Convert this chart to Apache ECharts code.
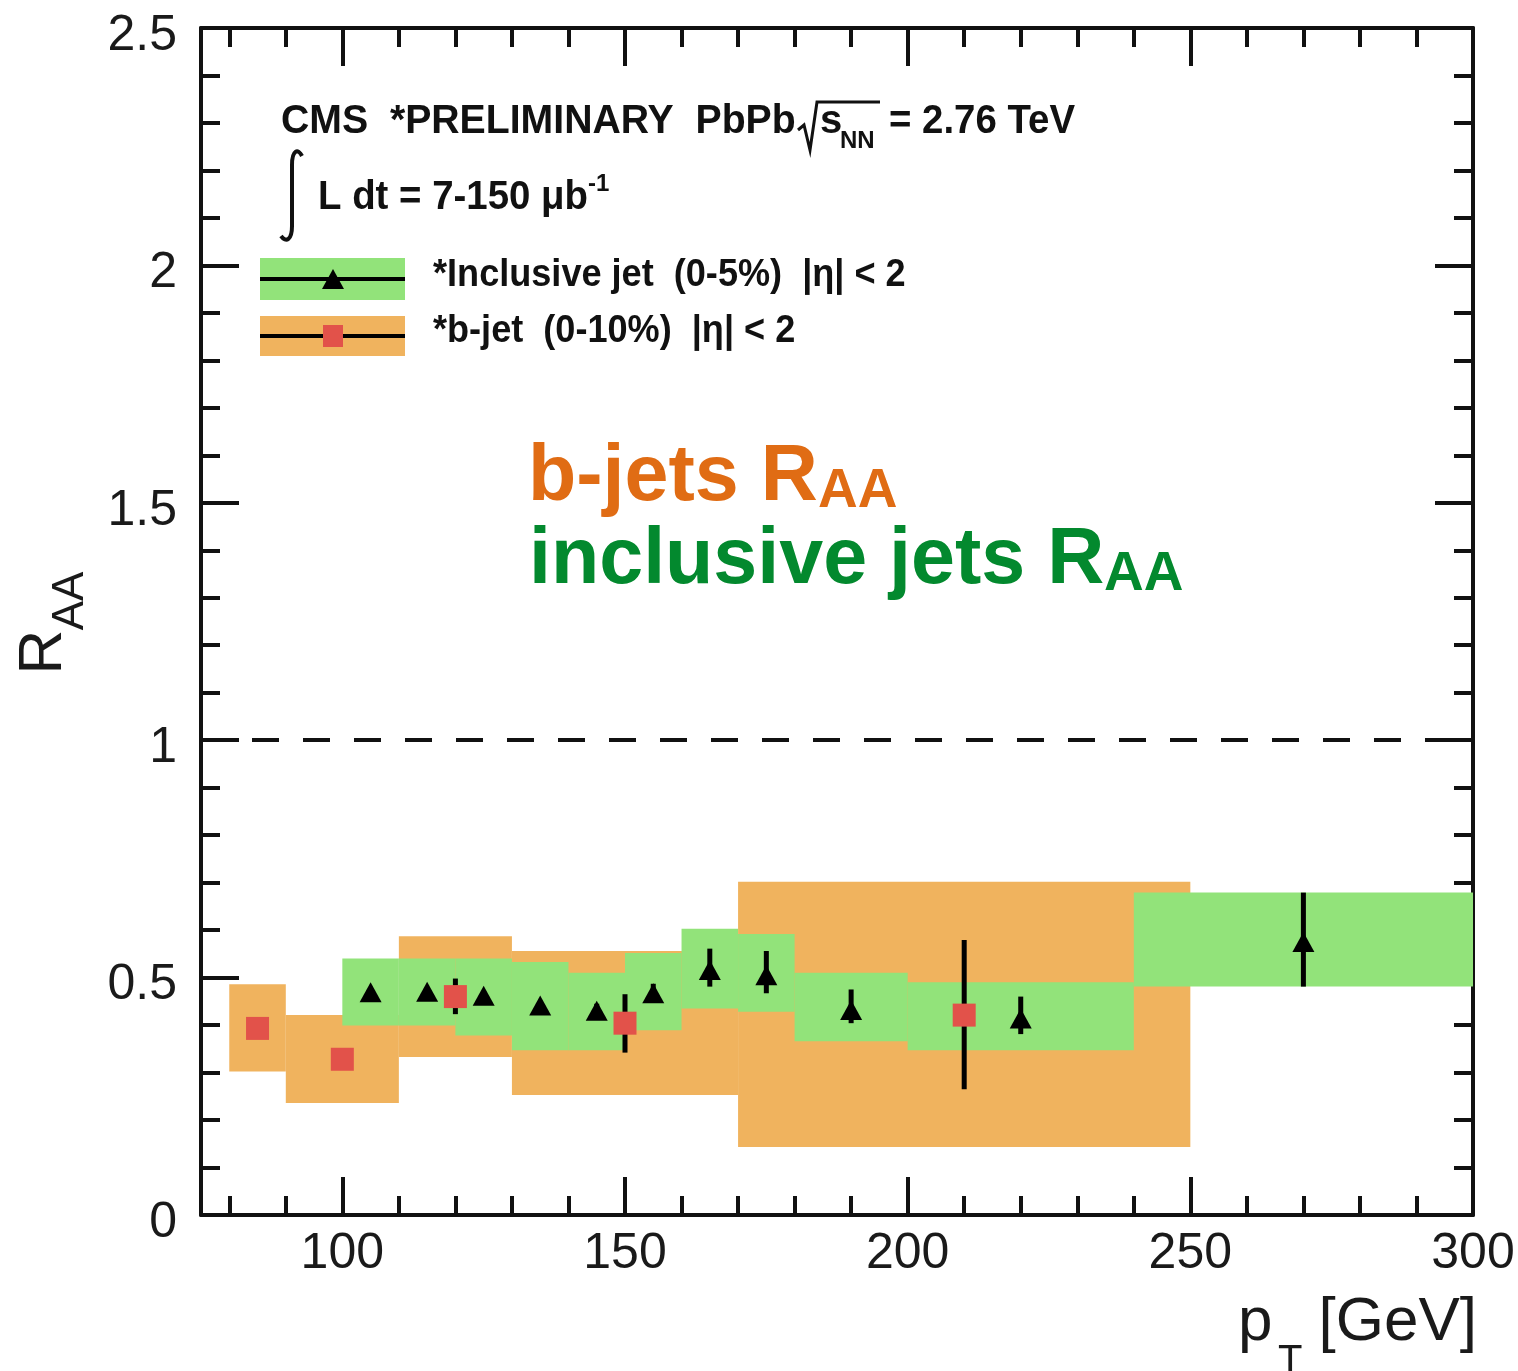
<!DOCTYPE html>
<html>
<head>
<meta charset="utf-8">
<script src="https://cdn.jsdelivr.net/npm/echarts@6/dist/echarts.min.js"></script>
<style>
  html, body { margin: 0; padding: 0; background: #ffffff; }
  #chart { width: 1518px; height: 1371px; }
</style>
</head>
<body>
<div id="chart"></div>
<script>
// ---- axis ticks ----
const xMajorTicks = [100, 150, 200, 250, 300];
const xMinorTicks = [80, 90, 110, 120, 130, 140, 160, 170, 180, 190, 210, 220, 230, 240, 260, 270, 280, 290];
const yMajorTicks = [0, 0.5, 1, 1.5, 2, 2.5];

// ---- b-jet R_AA (0-10%), |eta| < 2 ----
const bjetPt     = [85, 100, 120, 150, 210];
const bjetBinLo  = [80, 90, 110, 130, 170];
const bjetBinHi  = [90, 110, 130, 170, 250];
const bjetRaa    = [0.393, 0.328, 0.460, 0.404, 0.421];
const bjetStatLo = [0.380, 0.315, 0.423, 0.342, 0.265];
const bjetStatHi = [0.406, 0.341, 0.498, 0.465, 0.579];
const bjetSysLo  = [0.302, 0.236, 0.333, 0.253, 0.143];
const bjetSysHi  = [0.486, 0.421, 0.587, 0.556, 0.702];

// ---- inclusive jet R_AA (0-5%), |eta| < 2 ----
const incPt     = [105, 115, 125, 135, 145, 155, 165, 175, 190, 220, 270];
const incBinLo  = [100, 110, 120, 130, 140, 150, 160, 170, 180, 200, 240];
const incBinHi  = [110, 120, 130, 140, 150, 160, 170, 180, 200, 240, 300];
const incRaa    = [0.469, 0.470, 0.462, 0.441, 0.430, 0.467, 0.516, 0.505, 0.432, 0.414, 0.575];
const incStatLo = [0.460, 0.461, 0.453, 0.432, 0.415, 0.450, 0.481, 0.467, 0.404, 0.381, 0.481];
const incStatHi = [0.478, 0.479, 0.471, 0.450, 0.445, 0.487, 0.561, 0.556, 0.475, 0.460, 0.679];
const incSysLo  = [0.399, 0.399, 0.378, 0.347, 0.347, 0.389, 0.435, 0.428, 0.366, 0.347, 0.481];
const incSysHi  = [0.540, 0.540, 0.540, 0.533, 0.510, 0.552, 0.603, 0.592, 0.510, 0.490, 0.679];

const unityRaa = 1;

const COLOR_BJET_SYS = '#F0B35E';
const COLOR_INC_SYS  = '#92E37A';
const COLOR_BJET_PT  = '#E2524A';
const INK = '#111111';
const FONT = '"Liberation Sans", Arial, Helvetica, sans-serif';

const zip = (...cols) => cols[0].map((_, i) => cols.map(c => c[i]));

function bandRenderer(fill) {
  return function (params, api) {
    const p0 = api.coord([api.value(0), api.value(3)]);
    const p1 = api.coord([api.value(1), api.value(2)]);
    return {
      type: 'rect',
      shape: { x: p0[0], y: p0[1], width: p1[0] - p0[0], height: p1[1] - p0[1] },
      style: { fill: fill }
    };
  };
}

function errorBarRenderer(params, api) {
  const top = api.coord([api.value(0), api.value(2)]);
  const bot = api.coord([api.value(0), api.value(1)]);
  return {
    type: 'line',
    shape: { x1: top[0], y1: top[1], x2: bot[0], y2: bot[1] },
    style: { stroke: '#000', lineWidth: 5, lineCap: 'butt' }
  };
}

const tickStyle = { color: INK, width: 4 };
const MAJOR = 38, MINOR = 19;

function xAxisDef(position, ticks, len, showLine, showLabel) {
  return {
    type: 'value', min: 75, max: 300, position: position,
    axisLine: { show: showLine, onZero: false, lineStyle: { color: INK, width: 4 } },
    axisTick: { show: true, inside: true, length: len, lineStyle: tickStyle, customValues: ticks },
    axisLabel: showLabel
      ? { show: true, customValues: ticks, color: '#1a1a1a', fontSize: 50, fontFamily: FONT, margin: 14 }
      : { show: false },
    splitLine: { show: false }
  };
}

function yAxisDef(position, showLabel) {
  return {
    type: 'value', min: 0, max: 2.5, interval: 0.5, position: position,
    axisLine: { show: true, onZero: false, lineStyle: { color: INK, width: 4 } },
    axisTick: { show: true, inside: true, length: MAJOR, lineStyle: tickStyle },
    minorTick: { show: true, splitNumber: 5, length: MINOR, lineStyle: tickStyle },
    axisLabel: showLabel
      ? { show: true, color: '#1a1a1a', fontSize: 50, fontFamily: FONT, margin: 24,
          formatter: v => (yMajorTicks.indexOf(v) >= 0 ? '{v|' + v + '}' : ''),
          rich: { v: { fontSize: 50, fontFamily: FONT, color: '#1a1a1a', padding: [16, 0, 0, 0] } } }
      : { show: false },
    splitLine: { show: false }
  };
}

const chart = echarts.init(document.getElementById('chart'), null, { renderer: 'canvas' });

const t = (x, y, text, size, opts) => Object.assign({
  type: 'text', x: x, y: y, z: 100,
  style: Object.assign({
    text: text, fill: INK, fontFamily: FONT, fontSize: size, fontWeight: 'bold',
    align: 'left', verticalAlign: 'middle'
  }, (opts && opts.style) || {})
}, (opts && opts.el) || {});

const option = {
  animation: false,
  backgroundColor: '#ffffff',
  grid: { left: 201, right: 45, top: 28, bottom: 156, containLabel: false },
  xAxis: [
    xAxisDef('bottom', xMajorTicks, MAJOR, true, true),
    xAxisDef('bottom', xMinorTicks, MINOR, false, false),
    xAxisDef('top', xMajorTicks, MAJOR, true, false),
    xAxisDef('top', xMinorTicks, MINOR, false, false)
  ],
  yAxis: [yAxisDef('left', true), yAxisDef('right', false)],
  series: [
    {
      name: 'b-jet syst', type: 'custom', z: 1,
      renderItem: bandRenderer(COLOR_BJET_SYS),
      encode: { x: [0, 1], y: [2, 3] },
      data: zip(bjetBinLo, bjetBinHi, bjetSysLo, bjetSysHi)
    },
    {
      name: 'inclusive syst', type: 'custom', z: 2,
      renderItem: bandRenderer(COLOR_INC_SYS),
      encode: { x: [0, 1], y: [2, 3] },
      data: zip(incBinLo, incBinHi, incSysLo, incSysHi)
    },
    {
      name: 'unity', type: 'line', z: 3, data: [], symbol: 'none',
      markLine: {
        silent: true, symbol: 'none', label: { show: false },
        lineStyle: { color: INK, width: 4, type: [27, 24] },
        data: [{ yAxis: unityRaa }]
      }
    },
    {
      name: 'inclusive stat', type: 'custom', z: 4,
      renderItem: errorBarRenderer,
      encode: { x: 0, y: [1, 2] },
      data: zip(incPt, incStatLo, incStatHi)
    },
    {
      name: 'b-jet stat', type: 'custom', z: 4,
      renderItem: errorBarRenderer,
      encode: { x: 0, y: [1, 2] },
      data: zip(bjetPt, bjetStatLo, bjetStatHi)
    },
    {
      name: 'inclusive jet', type: 'scatter', z: 5,
      symbol: 'triangle', symbolSize: [22, 20],
      itemStyle: { color: '#000', opacity: 1 },
      data: zip(incPt, incRaa)
    },
    {
      name: 'b-jet', type: 'scatter', z: 6,
      symbol: 'rect', symbolSize: 23,
      itemStyle: { color: COLOR_BJET_PT, opacity: 1 },
      data: zip(bjetPt, bjetRaa)
    }
  ],
  graphic: [
    // header
    t(281, 122, 'CMS  *PRELIMINARY  PbPb', 40, { el: { scaleX: 0.98 } }),
    { type: 'polyline', z: 100, shape: { points: [[798, 130], [804, 125], [810, 150], [817, 102], [880, 102]] },
      style: { stroke: INK, lineWidth: 3, fill: null } },
    t(820, 122, 's', 40),
    t(840, 141, 'NN', 24),
    t(889, 122, '= 2.76 TeV', 40, { el: { scaleX: 0.96 } }),
    // integrated luminosity: integral sign
    { type: 'bezierCurve', z: 100,
      shape: { x1: 302, y1: 156, cpx1: 298, cpy1: 148, cpx2: 292, cpy2: 150, x2: 292, y2: 165 },
      style: { stroke: INK, lineWidth: 4, fill: null } },
    { type: 'line', z: 100, shape: { x1: 292, y1: 164, x2: 292, y2: 227 },
      style: { stroke: INK, lineWidth: 4 } },
    { type: 'bezierCurve', z: 100,
      shape: { x1: 292, y1: 226, cpx1: 292, cpy1: 240, cpx2: 286, cpy2: 243, x2: 281, y2: 236 },
      style: { stroke: INK, lineWidth: 4, fill: null } },
    t(318, 198, 'L dt = 7-150 \u03bcb', 40, { el: { scaleX: 0.96 } }),
    t(588, 184, '-1', 24),
    // legend
    { type: 'rect', z: 100, shape: { x: 260, y: 258, width: 145, height: 42 }, style: { fill: COLOR_INC_SYS } },
    { type: 'line', z: 101, shape: { x1: 260, y1: 279, x2: 405, y2: 279 }, style: { stroke: '#000', lineWidth: 4 } },
    { type: 'polygon', z: 102, shape: { points: [[333, 269], [344, 289], [322, 289]] }, style: { fill: '#000' } },
    t(433, 276, '*Inclusive jet  (0-5%)  |\u03b7| < 2', 38, { el: { scaleX: 0.95 } }),
    { type: 'rect', z: 100, shape: { x: 260, y: 316, width: 145, height: 40 }, style: { fill: COLOR_BJET_SYS } },
    { type: 'line', z: 101, shape: { x1: 260, y1: 336, x2: 405, y2: 336 }, style: { stroke: '#000', lineWidth: 4 } },
    { type: 'rect', z: 102, shape: { x: 323, y: 325, width: 20, height: 22 }, style: { fill: COLOR_BJET_PT } },
    t(433, 332, '*b-jet  (0-10%)  |\u03b7| < 2', 38, { el: { scaleX: 0.95 } }),
    // coloured annotations
    t(528, 478, 'b-jets R', 79, { style: { fill: '#E06C14' } }),
    t(818, 492, 'AA', 55, { style: { fill: '#E06C14' } }),
    t(529, 561, 'inclusive jets R', 79, { style: { fill: '#03892E' } }),
    t(1104, 575, 'AA', 55, { style: { fill: '#03892E' } }),
    // axis titles
    t(44, 652, 'R', 62, { el: { rotation: Math.PI / 2 }, style: { fontWeight: 'normal', align: 'center', fill: '#1a1a1a' } }),
    t(71, 601, 'AA', 44, { el: { rotation: Math.PI / 2 }, style: { fontWeight: 'normal', align: 'center', fill: '#1a1a1a' } }),
    t(1238, 1323, 'p', 62, { style: { fontWeight: 'normal', fill: '#1a1a1a' } }),
    t(1278, 1362, 'T', 40, { style: { fontWeight: 'normal', fill: '#1a1a1a' } }),
    t(1477, 1323, '[GeV]', 62, { style: { fontWeight: 'normal', align: 'right', fill: '#1a1a1a' } })
  ]
};

chart.setOption(option);
</script>
</body>
</html>
